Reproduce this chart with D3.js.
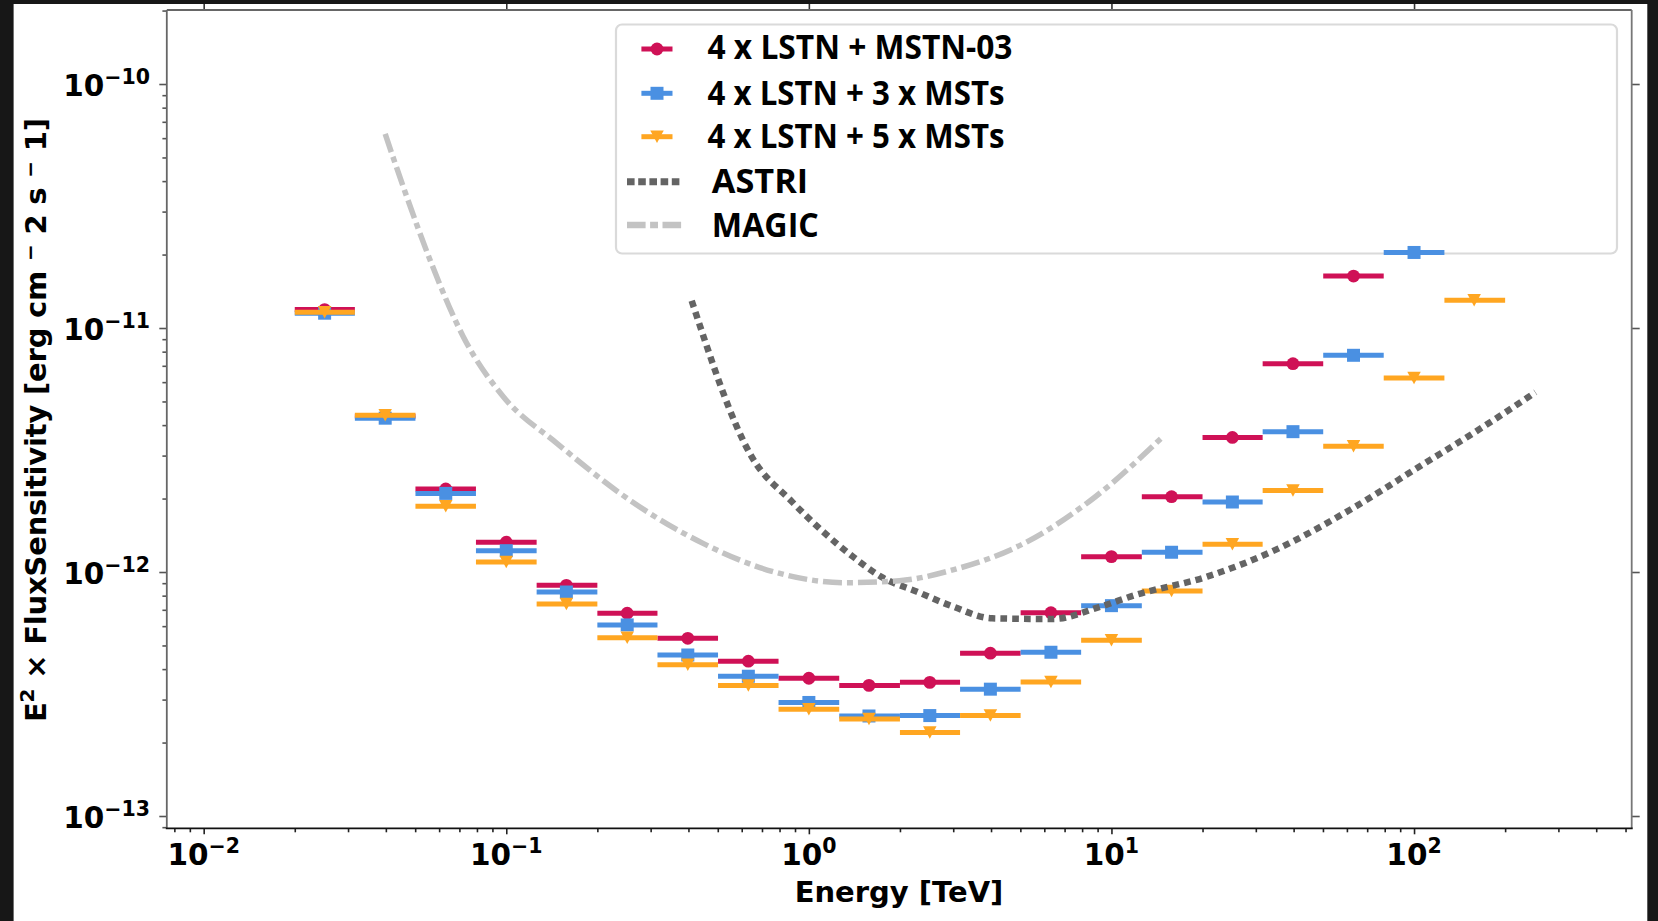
<!DOCTYPE html>
<html><head><meta charset="utf-8">
<script src="https://cdn.jsdelivr.net/npm/d3@7"></script>
<style>body{margin:0;background:#fff;overflow:hidden;} svg{display:block;}</style>
</head><body>
<svg id="c" width="1658" height="921"></svg>
<script>
// ---------------- data ----------------
const binCenters = [0.0251,0.0398,0.0631,0.1,0.158,0.251,0.398,0.631,1.0,1.58,2.51,3.98,6.31,10,15.8,25.1,39.8,63.1,100,158];
const binEdges   = [0.02,0.0316,0.0501,0.0794,0.126,0.2,0.316,0.501,0.794,1.26,2.0,3.16,5.01,7.94,12.6,20,31.6,50.1,79.4,126,200];
const sensMSTN03 = [1.19e-11,4.35e-12,2.19e-12,1.324e-12,8.82e-13,6.78e-13,5.35e-13,4.31e-13,3.67e-13,3.43e-13,3.53e-13,4.65e-13,6.81e-13,1.156e-12,2.035e-12,3.56e-12,7.14e-12,1.633e-11];
const sens3MSTs  = [1.15e-11,4.27e-12,2.10e-12,1.223e-12,8.28e-13,6.07e-13,4.57e-13,3.74e-13,2.92e-13,2.57e-13,2.58e-13,3.31e-13,4.69e-13,7.28e-13,1.205e-12,1.936e-12,3.76e-12,7.73e-12,2.04e-11];
const sens5MSTs  = [1.16e-11,4.39e-12,1.86e-12,1.099e-12,7.40e-13,5.38e-13,4.17e-13,3.43e-13,2.74e-13,2.50e-13,2.20e-13,2.58e-13,3.54e-13,5.25e-13,8.36e-13,1.299e-12,2.16e-12,3.28e-12,6.24e-12,1.30e-11];
const astriEnergy = [0.410,0.647,0.878,1.40,1.73,2.28,3.0,4.03,6.41,9.18,12.0,20.7,35.7,61.5,106,163,252];
const astriSens   = [1.294e-11,2.97e-12,1.945e-12,1.155e-12,9.57e-13,8.30e-13,7.21e-13,6.46e-13,6.42e-13,7.21e-13,8.05e-13,9.57e-13,1.25e-12,1.80e-12,2.74e-12,3.82e-12,5.45e-12];
const magicEnergy = [0.0398,0.0463,0.0560,0.0721,0.0978,0.147,0.259,0.447,0.769,1.32,1.99,2.99,5.14,8.87,14.8];
const magicSens   = [6.24e-11,3.61e-11,1.90e-11,9.21e-12,5.23e-12,3.37e-12,1.95e-12,1.31e-12,1.00e-12,9.04e-13,9.21e-13,1.02e-12,1.31e-12,2.04e-12,3.59e-12];
const xTickValues = [0.01,0.1,1,10,100];
const xTickExponents = ["\u22122","\u22121","0","1","2"];
const yTickValues = [1e-13,1e-12,1e-11,1e-10];
const yTickExponents = ["\u221213","\u221212","\u221211","\u221210"];
const seriesLabels = ["4 x LSTN + MSTN-03","4 x LSTN + 3 x MSTs","4 x LSTN + 5 x MSTs","ASTRI","MAGIC"];

// ---------------- layout ----------------
const svg = d3.select("#c");
const L = 166.8, R = 1631.7, T = 10, B = 828.3;
const x = d3.scaleLog().domain([0.007553, 524]).range([L, R]);
const y = d3.scaleLog().domain([8.905e-14, 2.0106e-10]).range([B, T]);
const C_RED = "#cf1156", C_BLUE = "#4a90e2", C_ORANGE = "#ffa621", C_ASTRI = "#646464", C_MAGIC = "#c3c3c3";
const tickFont = "'DejaVu Sans', sans-serif";

svg.append("rect").attr("width",1658).attr("height",921).attr("fill","#fff");

// ---------- axes (ticks via d3 axes) ----------
const isDecade = v => Math.abs(Math.log10(v) - Math.round(Math.log10(v))) < 1e-6;
const xMinor = x.ticks().filter(v => !isDecade(v));
const yMinor = y.ticks().filter(v => !isDecade(v));

function styleAxis(g, color){
  g.select(".domain").remove();
  g.selectAll(".tick line").attr("stroke", color).attr("stroke-width", 1.6);
  g.selectAll(".tick text").remove();
}
svg.append("g").attr("transform",`translate(0,${B})`)
  .call(d3.axisBottom(x).tickValues(xMinor).tickSize(4).tickFormat(""))
  .call(g=>styleAxis(g,"#222"));
svg.append("g").attr("transform",`translate(0,${B})`)
  .call(d3.axisBottom(x).tickValues(xTickValues).tickSize(6).tickFormat(""))
  .call(g=>styleAxis(g,"#222"));
svg.append("g").attr("transform",`translate(0,${T})`)
  .call(d3.axisTop(x).tickValues(xTickValues).tickSize(7).tickFormat(""))
  .call(g=>styleAxis(g,"#333"));
svg.append("g").attr("transform",`translate(${L},0)`)
  .call(d3.axisLeft(y).tickValues(yMinor).tickSize(4.4).tickFormat(""))
  .call(g=>styleAxis(g,"#555"));
svg.append("g").attr("transform",`translate(${L},0)`)
  .call(d3.axisLeft(y).tickValues(yTickValues).tickSize(7.5).tickFormat(""))
  .call(g=>styleAxis(g,"#555"));
svg.append("g").attr("transform",`translate(${R},0)`)
  .call(d3.axisRight(y).tickValues(yTickValues).tickSize(8).tickFormat(""))
  .call(g=>styleAxis(g,"#555"));

// spines
svg.append("line").attr("x1",L).attr("x2",R).attr("y1",T).attr("y2",T).attr("stroke","#666").attr("stroke-width",1.8);
svg.append("line").attr("x1",L).attr("x2",L).attr("y1",T).attr("y2",B).attr("stroke","#666").attr("stroke-width",1.8);
svg.append("line").attr("x1",R).attr("x2",R).attr("y1",T).attr("y2",B).attr("stroke","#777").attr("stroke-width",1.8);
svg.append("line").attr("x1",L-1).attr("x2",R+1).attr("y1",B).attr("y2",B).attr("stroke","#111").attr("stroke-width",1.8);

// tick labels
xTickValues.forEach((v,i)=>{
  const t = svg.append("text").attr("x", x(v)).attr("y", 864.5).attr("text-anchor","middle")
    .attr("font-family",tickFont).attr("font-weight","bold").attr("font-size",29.5).attr("fill","#000");
  t.append("tspan").text("10");
  t.append("tspan").attr("dy",-11.5).attr("font-size",20.5).text(xTickExponents[i]);
});
yTickValues.forEach((v,i)=>{
  const t = svg.append("text").attr("x", 150).attr("y", y(v)+11.8).attr("text-anchor","end")
    .attr("font-family",tickFont).attr("font-weight","bold").attr("font-size",29.5).attr("fill","#000");
  t.append("tspan").text("10");
  t.append("tspan").attr("dy",-11.5).attr("font-size",20.5).text(yTickExponents[i]);
});

// axis titles
svg.append("text").attr("x",899).attr("y",901.5).attr("text-anchor","middle")
  .attr("font-family",tickFont).attr("font-weight","bold").attr("font-size",29).text("Energy [TeV]");
const yl = svg.append("text").attr("transform","translate(45.5,420) rotate(-90)").attr("text-anchor","middle")
  .attr("font-family",tickFont).attr("font-weight","bold").attr("font-size",29)
  .attr("textLength",604).attr("lengthAdjust","spacing");
yl.append("tspan").text("E");
yl.append("tspan").attr("dy",-12).attr("font-size",20).text("2");
yl.append("tspan").attr("dy",12).text(" \u00d7 FluxSensitivity [erg cm ");
yl.append("tspan").attr("dy",-9).attr("font-size",20).text("\u2212");
yl.append("tspan").attr("dy",9).text(" 2 s ");
yl.append("tspan").attr("dy",-9).attr("font-size",20).text("\u2212");
yl.append("tspan").attr("dy",9).text(" 1]");

// ---------- legend ----------
const lg = svg.append("g");
lg.append("rect").attr("x",616).attr("y",24.5).attr("width",1001).attr("height",229).attr("rx",6)
  .attr("fill","#fff").attr("stroke","#dadada").attr("stroke-width",2.2);

// ---------- marker helpers ----------
const markerSym = {
  circle: d3.symbol().type(d3.symbolCircle).size(Math.PI*6.4*6.4),
  square: d3.symbol().type(d3.symbolSquare).size(13*13)
};
function triDown(cx, cy, w, h){
  return `M${cx-w/2},${cy-h/2}L${cx+w/2},${cy-h/2}L${cx},${cy+h/2}Z`;
}
function drawMarker(g, kind, cx, cy, color){
  if(kind==="tri") g.append("path").attr("d",triDown(cx,cy,13.5,12.5)).attr("fill",color);
  else g.append("path").attr("d",markerSym[kind]()).attr("transform",`translate(${cx},${cy})`).attr("fill",color);
}

const series = [
  {vals: sensMSTN03, color: C_RED, kind: "circle"},
  {vals: sens3MSTs, color: C_BLUE, kind: "square"},
  {vals: sens5MSTs, color: C_ORANGE, kind: "tri"}
];

// legend entries
const rowY = [49, 93.3, 136.7, 181.7, 225];
const rowBase = [59.3, 105, 148.3, 192.7, 236.7];
const rowWidth = [305, 297, 297, 96.4, 107];
series.forEach((s,i)=>{
  lg.append("line").attr("x1",641.4).attr("x2",672.5).attr("y1",rowY[i]).attr("y2",rowY[i])
    .attr("stroke",s.color).attr("stroke-width",5);
  drawMarker(lg, s.kind, 657, rowY[i], s.color);
});
lg.append("line").attr("x1",627).attr("x2",681.4).attr("y1",rowY[3]).attr("y2",rowY[3])
  .attr("stroke",C_ASTRI).attr("stroke-width",7).attr("stroke-dasharray","7.6,3.6");
lg.append("line").attr("x1",627).attr("x2",681.4).attr("y1",rowY[4]).attr("y2",rowY[4])
  .attr("stroke",C_MAGIC).attr("stroke-width",6.7).attr("stroke-dasharray","18.6,4.5,7.9,4.5");
seriesLabels.forEach((lab,i)=>{
  lg.append("text").attr("x", i<3 ? 707.5 : 711.8).attr("y", rowBase[i])
    .attr("font-family","'Open Sans', sans-serif").attr("font-weight","bold").attr("font-size",34)
    .attr("textLength",rowWidth[i]).attr("lengthAdjust","spacingAndGlyphs").attr("fill","#000").text(lab);
});

// ---------- data series ----------
const plot = svg.append("g");
series.forEach(s=>{
  const g = plot.append("g");
  s.vals.forEach((v,i)=>{
    g.append("line").attr("x1",x(binEdges[i])).attr("x2",x(binEdges[i+1]))
      .attr("y1",y(v)).attr("y2",y(v)).attr("stroke",s.color).attr("stroke-width",5);
    drawMarker(g, s.kind, x(binCenters[i]), y(v), s.color);
  });
});

// reference curves
const lineGen = d3.line().x(d=>x(d[0])).y(d=>y(d[1])).curve(d3.curveMonotoneX);
plot.append("path").datum(astriEnergy.map((e,i)=>[e,astriSens[i]])).attr("d",lineGen)
  .attr("fill","none").attr("stroke",C_ASTRI).attr("stroke-width",6.5).attr("stroke-dasharray","6.7,5.1");
plot.append("path").datum(magicEnergy.map((e,i)=>[e,magicSens[i]])).attr("d",lineGen)
  .attr("fill","none").attr("stroke",C_MAGIC).attr("stroke-width",5.5).attr("stroke-dasharray","19,5,6,5");

// ---------- dark frame strips ----------
svg.append("rect").attr("x",0).attr("y",0).attr("width",13.6).attr("height",921).attr("fill","#171717");
svg.append("rect").attr("x",0).attr("y",0).attr("width",1658).attr("height",4).attr("fill","#171717");
svg.append("rect").attr("x",1647.3).attr("y",0).attr("width",10.7).attr("height",921).attr("fill","#171717");
</script>
</body></html>
